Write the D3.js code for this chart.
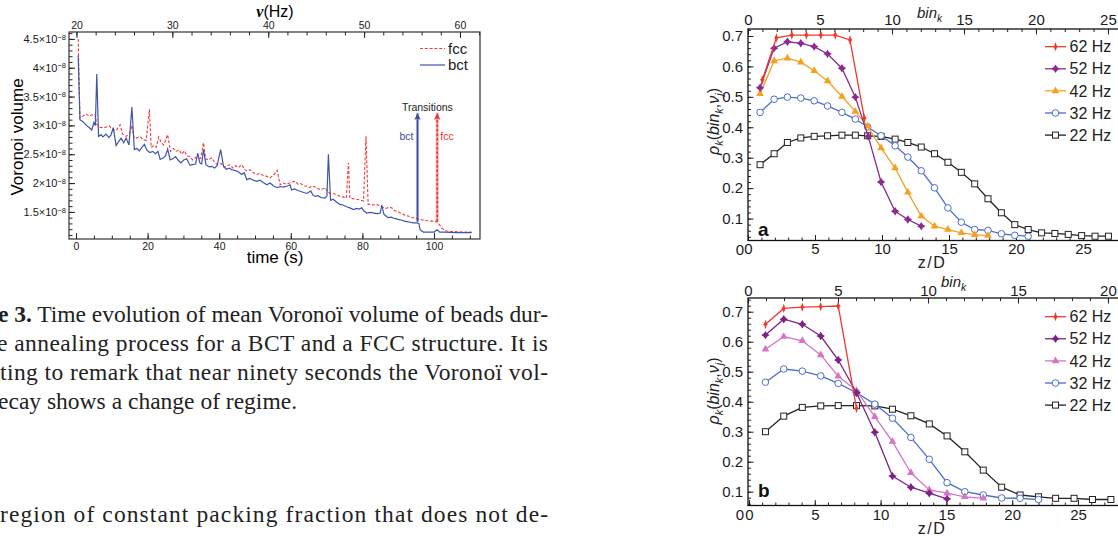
<!DOCTYPE html>
<html>
<head>
<meta charset="utf-8">
<script src="https://cdn.jsdelivr.net/npm/d3@7"></script>
<style>
  body { margin: 0; background: #fff; }
  svg { display: block; }
</style>
</head>
<body>
<svg id="fig" width="1118" height="536"></svg>
<script>
// Mean Voronoi volume (x 1e-8) against time (s)
const fccSeries = [
  [0.6, 4.50], [1.1, 3.13], [1.9, 3.16], [2.8, 3.20], [3.7, 3.16], [4.7, 3.19], [5.3, 3.19], [5.8, 3.02],
  [6.5, 2.97], [7.5, 2.96], [8.4, 2.97], [9.3, 2.99], [10.2, 2.93], [11.2, 2.91], [12.3, 3.01], [13.0, 2.85],
  [14.0, 2.81], [15.0, 2.86], [15.6, 3.00], [16.2, 2.78], [16.8, 2.78], [17.9, 2.81], [18.8, 2.75], [19.6, 2.74],
  [20.5, 3.28], [21.0, 2.62], [21.8, 2.65], [22.4, 2.62], [23.1, 2.80], [23.8, 2.70], [24.5, 2.66], [25.6, 2.84],
  [26.4, 2.55], [27.2, 2.60], [28.0, 2.55], [28.8, 2.58], [29.5, 2.50], [30.3, 2.56], [31.0, 2.47], [31.8, 2.46],
  [32.6, 2.40], [33.3, 2.44], [34.2, 2.42], [34.8, 2.43], [35.6, 2.70], [36.2, 2.42], [37.0, 2.40], [37.9, 2.44],
  [38.8, 2.35], [39.6, 2.32], [40.5, 2.34], [41.3, 2.28], [42.1, 2.29], [43.0, 2.32], [43.8, 2.26], [44.6, 2.30],
  [45.4, 2.27], [46.3, 2.32], [47.0, 2.24], [47.7, 2.21], [48.6, 2.23], [49.5, 2.18], [50.5, 2.15], [51.4, 2.17],
  [52.3, 2.13], [53.2, 2.12], [54.2, 2.09], [55.2, 2.14], [56.2, 2.22], [57.0, 1.97], [57.9, 2.00], [58.8, 1.98],
  [59.6, 2.00], [60.4, 2.02], [61.2, 2.03], [62.0, 1.98], [62.8, 1.99], [63.6, 1.95], [64.4, 1.95], [65.2, 1.92],
  [66.0, 1.95], [66.8, 1.93], [67.5, 1.90], [68.2, 1.89], [69.0, 1.90], [69.6, 1.92], [70.3, 1.85], [71.0, 1.82],
  [71.8, 1.82], [72.8, 1.80], [73.7, 1.77], [74.6, 1.76], [75.5, 1.74], [76.1, 2.35], [76.5, 1.74], [77.3, 1.73],
  [78.2, 1.72], [79.1, 1.71], [80.3, 1.69], [81.0, 2.81], [81.6, 1.63], [82.4, 1.63], [83.2, 1.62], [84.0, 1.63],
  [84.9, 1.60], [85.8, 1.58], [86.6, 1.56], [87.4, 1.58], [88.2, 1.57], [89.0, 1.52], [89.8, 1.51], [90.6, 1.48],
  [91.4, 1.46], [91.9, 1.44], [92.8, 1.43], [93.6, 1.41], [94.2, 1.40], [95.2, 1.38], [96.0, 1.37], [96.9, 1.36],
  [97.8, 1.35], [98.9, 1.34], [99.8, 1.34], [100.8, 1.33], [101.5, 1.28], [102.2, 1.22], [103.0, 1.18], [103.5, 1.17],
  [104.5, 1.16], [106.0, 1.16], [108.0, 1.15], [110.5, 1.15]
];
const bctSeries = [
  [0.6, 4.21], [1.1, 3.10], [2.0, 3.06], [2.9, 3.00], [3.9, 2.95], [4.4, 2.92], [5.0, 3.05], [5.4, 3.00],
  [5.8, 3.89], [6.3, 2.81], [7.0, 2.84], [7.5, 2.80], [8.4, 2.85], [9.2, 2.79], [9.8, 2.84], [10.4, 2.96],
  [11.2, 2.65], [11.9, 2.72], [12.6, 2.78], [13.3, 2.70], [14.0, 2.78], [14.8, 2.66], [15.6, 3.32], [16.3, 2.58],
  [17.0, 2.60], [17.7, 2.56], [18.4, 2.62], [19.1, 2.67], [19.8, 2.57], [20.6, 2.53], [21.4, 2.55], [22.2, 2.51],
  [22.9, 2.55], [23.5, 2.41], [24.2, 2.43], [25.0, 2.47], [25.6, 2.59], [26.3, 2.40], [27.0, 2.42], [27.8, 2.46],
  [28.5, 2.40], [29.3, 2.35], [30.1, 2.40], [30.9, 2.42], [31.8, 2.31], [32.6, 2.32], [33.4, 2.33], [34.0, 2.52],
  [34.6, 2.35], [35.1, 2.33], [35.6, 2.58], [36.3, 2.32], [37.2, 2.28], [37.9, 2.29], [38.7, 2.26], [39.4, 2.30],
  [40.4, 2.58], [41.2, 2.29], [42.0, 2.24], [42.8, 2.26], [43.5, 2.23], [44.3, 2.22], [45.2, 2.20], [46.3, 2.15],
  [47.0, 2.18], [47.7, 2.06], [48.6, 2.08], [49.5, 2.05], [50.5, 2.03], [51.4, 2.05], [52.3, 2.01], [53.3, 1.97],
  [54.2, 2.00], [55.2, 1.95], [56.2, 1.92], [57.1, 1.94], [58.0, 1.93], [59.0, 1.95], [59.8, 1.97], [60.2, 1.88],
  [61.0, 1.90], [62.0, 1.87], [63.0, 1.85], [64.4, 1.82], [65.0, 1.84], [65.6, 1.86], [66.2, 1.79], [66.8, 1.77],
  [67.6, 1.78], [68.4, 1.75], [69.6, 1.74], [70.1, 1.78], [70.5, 2.50], [71.1, 1.70], [71.8, 1.72], [72.6, 1.68],
  [73.7, 1.63], [74.6, 1.62], [75.6, 1.59], [76.5, 1.57], [77.5, 1.54], [78.4, 1.56], [79.1, 1.55], [79.8, 1.57],
  [80.4, 1.52], [81.2, 1.48], [82.2, 1.49], [83.2, 1.48], [84.2, 1.47], [85.0, 1.48], [85.4, 1.62], [86.0, 1.46],
  [86.6, 1.43], [87.2, 1.40], [88.0, 1.41], [88.8, 1.39], [89.5, 1.38], [90.0, 1.37], [90.8, 1.36], [91.7, 1.34],
  [92.5, 1.33], [93.3, 1.32], [94.2, 1.31], [95.2, 1.31], [95.8, 1.30], [96.1, 1.19], [97.0, 1.15], [98.0, 1.15],
  [99.0, 1.15], [100.0, 1.15], [100.9, 1.19], [101.6, 1.15], [103.0, 1.15], [106.0, 1.14], [110.5, 1.14]
];
// transition arrows: time, base and tip in volume units
const transitions = [
  {label: 'bct', t: 95.4, base: 1.33, tip: 3.22},
  {label: 'fcc', t: 100.9, base: 1.33, tip: 3.22}
];
const volTicks = [1.5, 2, 2.5, 3, 3.5, 4, 4.5];
const timeTicks = [0, 20, 40, 60, 80, 100];
const nuTicks = [20, 30, 40, 50, 60];

// Density profiles rho_k against z/D, panel a
const a62 = [[1.07, 0.556], [2.12, 0.694], [3.27, 0.703], [4.36, 0.703], [5.44, 0.703], [6.51, 0.703], [7.61, 0.687], [8.68, 0.430]];
const a52 = [[0.90, 0.530], [1.95, 0.660], [2.94, 0.681], [3.94, 0.676], [4.94, 0.665], [5.94, 0.641], [7.01, 0.594],
  [8.01, 0.499], [8.97, 0.370], [9.93, 0.220], [10.98, 0.124], [11.93, 0.097], [12.93, 0.075]];
const a42 = [[0.90, 0.510], [1.95, 0.618], [2.94, 0.627], [3.94, 0.614], [4.94, 0.586], [5.94, 0.552], [7.01, 0.501],
  [8.01, 0.452], [8.93, 0.403], [9.93, 0.332], [10.98, 0.266], [11.93, 0.186], [12.93, 0.108], [13.92, 0.075],
  [14.92, 0.064], [15.92, 0.053], [16.92, 0.047], [17.91, 0.044]];
const a32 = [[0.90, 0.449], [1.95, 0.492], [2.94, 0.499], [3.94, 0.496], [4.94, 0.487], [5.94, 0.470], [7.01, 0.449],
  [8.01, 0.427], [8.93, 0.401], [9.93, 0.372], [10.98, 0.339], [11.93, 0.302], [12.93, 0.257], [13.92, 0.201],
  [14.92, 0.135], [15.92, 0.088], [16.92, 0.064], [17.91, 0.061], [18.91, 0.050], [19.91, 0.045], [20.91, 0.042]];
const a22 = [[0.90, 0.277], [1.95, 0.313], [2.94, 0.350], [3.94, 0.365], [4.94, 0.370], [5.94, 0.372], [7.01, 0.374],
  [8.01, 0.374], [8.93, 0.372], [9.93, 0.370], [10.98, 0.361], [11.93, 0.350], [12.93, 0.335], [13.92, 0.313],
  [14.92, 0.285], [15.92, 0.252], [16.92, 0.214], [17.91, 0.165], [18.91, 0.119], [19.91, 0.080], [20.91, 0.064],
  [21.91, 0.053], [22.9, 0.051], [23.9, 0.048], [24.9, 0.044], [25.9, 0.042], [26.9, 0.042]];

// panel b
const b62 = [[1.25, 0.658], [2.64, 0.711], [4.05, 0.715], [5.45, 0.717], [6.78, 0.719], [8.17, 0.378]];
const b52 = [[1.25, 0.622], [2.64, 0.675], [4.05, 0.658], [5.45, 0.619], [6.78, 0.539], [8.17, 0.430], [9.56, 0.298],
  [10.9, 0.152], [12.3, 0.115], [13.7, 0.095], [15.05, 0.076]];
const b42 = [[1.25, 0.575], [2.64, 0.617], [4.05, 0.603], [5.45, 0.556], [6.78, 0.485], [8.17, 0.437], [9.56, 0.350],
  [10.9, 0.267], [12.3, 0.163], [13.7, 0.106], [15.05, 0.095], [16.4, 0.083], [17.8, 0.078]];
const b32 = [[1.25, 0.465], [2.64, 0.509], [4.05, 0.502], [5.45, 0.486], [6.78, 0.461], [8.17, 0.430], [9.56, 0.392],
  [10.9, 0.345], [12.3, 0.281], [13.7, 0.208], [15.05, 0.130], [16.4, 0.100], [17.8, 0.089], [19.2, 0.079],
  [20.6, 0.078], [22.0, 0.074]];
const b22 = [[1.25, 0.300], [2.64, 0.352], [4.05, 0.381], [5.45, 0.386], [6.78, 0.387], [8.17, 0.387], [9.56, 0.386],
  [10.9, 0.375], [12.3, 0.353], [13.7, 0.326], [15.05, 0.286], [16.4, 0.233], [17.8, 0.172], [19.2, 0.115],
  [20.6, 0.089], [22.0, 0.083], [23.3, 0.078], [24.7, 0.078], [26.1, 0.074], [27.5, 0.074]];

const freqLabels = ['62 Hz', '52 Hz', '42 Hz', '32 Hz', '22 Hz'];
const rhoTicks = [0.1, 0.2, 0.3, 0.4, 0.5, 0.6, 0.7];
const zTicks = [0, 5, 10, 15, 20, 25];
const binTicksA = [0, 5, 10, 15, 20, 25];
const binTicksB = [0, 5, 10, 15, 20];

const captionLines = [
  ['e 3.', ' Time evolution of mean Voronoï volume of beads dur-'],
  ['', 'e annealing process for a BCT and a FCC structure. It is'],
  ['', 'ting to remark that near ninety seconds the Voronoï vol-'],
  ['', 'ecay shows a change of regime.'],
  ['', 'region of constant packing fraction that does not de-']
];

const SANS = "'Liberation Sans', Arial, sans-serif";
const svg = d3.select('#fig');
svg.append('rect').attr('width', 1118).attr('height', 536).attr('fill', '#fff');

function addAxis(parent, axis, tx, ty, fs) {
  const g = parent.append('g').attr('transform', `translate(${tx},${ty})`).call(axis);
  g.select('.domain').remove();
  g.attr('font-family', null).attr('font-size', null);
  g.selectAll('line').attr('stroke', '#222').attr('stroke-width', 1);
  g.selectAll('text').attr('font-size', fs).attr('fill', '#1a1a1a');
  return g;
}

// ================= left chart =================
const L = {left: 69, right: 480, top: 32, bottom: 239};
const xTime = d3.scaleLinear().domain([-1.96, 112.85]).range([L.left, L.right]);
const xNu = d3.scaleLinear().domain([19.22, 62.09]).range([L.left, L.right]);
const yVol = d3.scaleLinear().domain([1.03, 4.62]).range([L.bottom, L.top]);

const gL = svg.append('g').attr('font-family', SANS);

addAxis(gL, d3.axisLeft(yVol).tickValues(d3.range(1.1, 4.62, 0.1)).tickSize(-3.5).tickFormat(''), L.left, 0, 11);
addAxis(gL, d3.axisLeft(yVol).tickValues(volTicks).tickSize(-6).tickPadding(3), L.left, 0, 11)
  .selectAll('.tick text')
  .each(function (d) {
    const t = d3.select(this).text('');
    t.append('tspan').text(d + '×10');
    t.append('tspan').attr('dy', '-0.45em').attr('font-size', 7.5).text('−8');
  });

addAxis(gL, d3.axisBottom(xTime).tickValues(d3.range(0, 113, 5)).tickSize(-3.5).tickFormat(''), 0, L.bottom, 10.5);
addAxis(gL, d3.axisBottom(xTime).tickValues(timeTicks).tickSize(-6).tickPadding(3.5), 0, L.bottom, 10.5);
addAxis(gL, d3.axisTop(xNu).tickValues(d3.range(20, 62.1, 2)).tickSize(-3.5).tickFormat(''), 0, L.top, 10.5);
addAxis(gL, d3.axisTop(xNu).tickValues(nuTicks).tickSize(-6).tickPadding(3), 0, L.top, 10.5);

gL.append('rect')
  .attr('x', L.left).attr('y', L.top)
  .attr('width', L.right - L.left).attr('height', L.bottom - L.top)
  .attr('fill', 'none').attr('stroke', '#333').attr('stroke-width', 1.2);

const volLine = d3.line().x(d => xTime(d[0])).y(d => yVol(d[1]));
gL.append('path').datum(fccSeries).attr('d', volLine)
  .attr('fill', 'none').attr('stroke', '#f23a3a').attr('stroke-width', 1.1).attr('stroke-dasharray', '3,1.8');
gL.append('path').datum(bctSeries).attr('d', volLine)
  .attr('fill', 'none').attr('stroke', '#3d55ad').attr('stroke-width', 1.2);

// axis titles
gL.append('text').attr('x', 275).attr('y', 17).attr('text-anchor', 'middle').attr('font-size', 16)
  .call(t => {
    t.append('tspan').attr('font-family', "'Liberation Serif', serif").attr('font-weight', 'bold')
      .attr('font-style', 'italic').text('ν');
    t.append('tspan').text('(Hz)');
  });
gL.append('text').attr('x', 275).attr('y', 263).attr('text-anchor', 'middle').attr('font-size', 17).text('time (s)');
gL.append('text').attr('transform', 'translate(23,137) rotate(-90)').attr('text-anchor', 'middle')
  .attr('font-size', 17).text('Voronoi volume');

// legend
const legendL = [{name: 'fcc', color: '#f23a3a', dash: '3,1.8', y: 48.5}, {name: 'bct', color: '#3d55ad', dash: null, y: 65}];
legendL.forEach(e => {
  gL.append('line').attr('x1', 420).attr('x2', 445).attr('y1', e.y).attr('y2', e.y)
    .attr('stroke', e.color).attr('stroke-width', 1.2).attr('stroke-dasharray', e.dash);
  gL.append('text').attr('x', 448).attr('y', e.y + 5.3).attr('font-size', 15).attr('fill', '#222').text(e.name);
});

// transition arrows
const arrowColor = {bct: '#3b4d9c', fcc: '#e8322e'};
const defs = svg.append('defs');
transitions.forEach(tr => {
  defs.append('marker').attr('id', 'arr-' + tr.label)
    .attr('viewBox', '-5 -5 10 10').attr('markerUnits', 'userSpaceOnUse')
    .attr('markerWidth', 9).attr('markerHeight', 9).attr('refX', 2).attr('refY', 0).attr('orient', 'auto')
    .append('path').attr('d', 'M4,0L-4,-3.6L-2,0L-4,3.6Z').attr('fill', arrowColor[tr.label]);
  const x = xTime(tr.t);
  gL.append('line').attr('x1', x).attr('x2', x).attr('y1', yVol(tr.base)).attr('y2', yVol(tr.tip))
    .attr('stroke', arrowColor[tr.label]).attr('stroke-opacity', 0.35).attr('stroke-width', 3.2);
  gL.append('line').attr('x1', x).attr('x2', x).attr('y1', yVol(tr.base)).attr('y2', yVol(tr.tip) + 2)
    .attr('stroke', arrowColor[tr.label]).attr('stroke-width', 1.5)
    .attr('stroke-dasharray', tr.label === 'fcc' ? '3,1.5' : null)
    .attr('marker-end', `url(#arr-${tr.label})`);
  const right = tr.label === 'fcc';
  gL.append('text').attr('x', right ? x + 3 : x - 4).attr('y', 140)
    .attr('text-anchor', right ? 'start' : 'end').attr('font-size', 10.5)
    .attr('fill', arrowColor[tr.label]).text(tr.label);
});
gL.append('text')
  .attr('x', (xTime(transitions[0].t) + xTime(transitions[1].t)) / 2)
  .attr('y', 110.5).attr('text-anchor', 'middle').attr('font-size', 10.5).attr('fill', '#222')
  .text('Transitions');

// ================= caption =================
const captionY = [322, 351, 380, 409, 522];
const captionX = [-2, -3, 0, -2, 0];
const captionW = [550, 551, 548, 299, 548];
const gC = svg.append('g').attr('font-family', "'Liberation Serif', 'Times New Roman', serif")
  .attr('font-size', 23.5).attr('fill', '#222');
captionLines.forEach((parts, i) => {
  const t = gC.append('text').attr('x', captionX[i]).attr('y', captionY[i])
    .attr('textLength', captionW[i]).attr('lengthAdjust', 'spacing');
  if (parts[0]) t.append('tspan').attr('font-weight', 'bold').text(parts[0]);
  t.append('tspan').text(parts[1]);
});

// ================= right panels =================
// frame runs past the right edge of the page, so only three sides show
const R = {left: 748, right: 1113, frameRight: 1130};
const colorsA = ['#ee3a2c', '#8a2c90', '#f5a021', '#4d6fcb', '#222222'];
const colorsB = ['#ee3a2c', '#7e2385', '#d475c6', '#4d6fcb', '#222222'];

function drawMarker(g, i, color) {
  if (i === 0) {
    g.append('path').attr('d', 'M0,-4.6L1.7,0L0,4.6L-1.7,0Z').attr('fill', color);
    g.append('line').attr('x1', -2.2).attr('x2', 2.2).attr('stroke', color).attr('stroke-width', 1);
  } else if (i === 1) {
    g.append('path').attr('d', 'M0,-4.2L1.7,-1.7L4.2,0L1.7,1.7L0,4.2L-1.7,1.7L-4.2,0L-1.7,-1.7Z').attr('fill', color);
  } else if (i === 2) {
    g.append('path').attr('d', d3.symbol(d3.symbolTriangle, 26)()).attr('fill', color);
  } else if (i === 3) {
    g.append('circle').attr('r', 3.3).attr('fill', '#fff').attr('stroke', color).attr('stroke-width', 1);
  } else {
    g.append('rect').attr('x', -3).attr('y', -3).attr('width', 6).attr('height', 6)
      .attr('fill', '#fff').attr('stroke', color).attr('stroke-width', 1);
  }
}

function richText(parent, parts, fs) {
  parts.forEach(p => {
    const s = parent.append('tspan').text(p.t);
    if (p.it) s.attr('font-style', 'italic');
    if (p.sub) s.attr('font-size', fs * 0.68).attr('dy', fs * 0.28);
    if (p.back) s.attr('dy', -fs * 0.28);
  });
}

function drawPanel(cfg) {
  const x = d3.scaleLinear().domain([0, cfg.zMax]).range([cfg.zLeft, R.right]);
  const xb = d3.scaleLinear().domain([0, cfg.binMax]).range([R.left, R.right]);
  const y = d3.scaleLinear().domain([cfg.yLo, cfg.yHi]).range([cfg.bottom, cfg.top]);
  const g = svg.append('g').attr('font-family', SANS);

  addAxis(g, d3.axisLeft(y).tickValues(d3.range(0.04, cfg.yHi, 0.02).filter(v => v > cfg.yLo)).tickSize(-3).tickFormat(''), R.left, 0, 15);
  addAxis(g, d3.axisLeft(y).tickValues(rhoTicks).tickSize(-5.5).tickPadding(5).tickFormat(d3.format('.1f')), R.left, 0, 15);
  addAxis(g, d3.axisBottom(x).tickValues(d3.range(0, cfg.zMax, 1)).tickSize(-3).tickFormat(''), 0, cfg.bottom, 15);
  addAxis(g, d3.axisBottom(x).tickValues(zTicks).tickSize(-5.5).tickPadding(cfg.padB), 0, cfg.bottom, 15);
  addAxis(g, d3.axisTop(xb).tickValues(d3.range(0, cfg.binMax, 1)).tickSize(-3).tickFormat(''), 0, cfg.top, 15);
  addAxis(g, d3.axisTop(xb).tickValues(cfg.binTicks).tickSize(-5.5).tickPadding(cfg.padT), 0, cfg.top, 15);

  g.append('rect').attr('x', R.left).attr('y', cfg.top)
    .attr('width', R.frameRight - R.left).attr('height', cfg.bottom - cfg.top)
    .attr('fill', 'none').attr('stroke', '#111').attr('stroke-width', 1.3);

  // corner zero of the rho axis
  g.append('text').attr('x', R.left - 4).attr('y', cfg.bottom + cfg.padB + 11).attr('text-anchor', 'end')
    .attr('font-size', 15).attr('fill', '#1a1a1a').text('0');

  const line = d3.line().x(d => x(d[0])).y(d => y(d[1]));
  for (let i = cfg.series.length - 1; i >= 0; i--) {
    const c = cfg.colors[i];
    g.append('path').datum(cfg.series[i]).attr('d', line)
      .attr('fill', 'none').attr('stroke', c).attr('stroke-width', 1.3);
    cfg.series[i].forEach(d => {
      drawMarker(g.append('g').attr('transform', `translate(${x(d[0])},${y(d[1])})`), i, c);
    });
  }

  // legend
  freqLabels.forEach((name, i) => {
    const ly = cfg.legendTop + i * 22.1;
    const c = cfg.colors[i];
    g.append('line').attr('x1', 1045).attr('x2', 1066).attr('y1', ly).attr('y2', ly)
      .attr('stroke', c).attr('stroke-width', 1.3);
    drawMarker(g.append('g').attr('transform', `translate(1055.5,${ly})`), i, c);
    g.append('text').attr('x', 1069.5).attr('y', ly + 5.6).attr('font-size', 16).attr('fill', '#222').text(name);
  });

  // axis titles
  g.append('text').attr('x', 932).attr('y', cfg.bottom + cfg.zTitle).attr('text-anchor', 'middle')
    .attr('font-size', 16).attr('letter-spacing', 1.5).attr('fill', '#222').text('z/D');
  const bt = g.append('text').attr('x', cfg.binX).attr('y', cfg.binY).attr('font-size', 15).attr('fill', '#222');
  richText(bt, [{t: 'bin', it: true}, {t: 'k', it: true, sub: true}], 15);
  const yl = g.append('text').attr('transform', `translate(719,${cfg.yLabelY}) rotate(-90)`)
    .attr('text-anchor', 'middle').attr('font-size', 16).attr('fill', '#222');
  richText(yl, [
    {t: 'ρ', it: true}, {t: 'k', it: true, sub: true}, {t: '(', back: true}, {t: 'bin', it: true},
    {t: 'k', it: true, sub: true}, {t: ',', back: true}, {t: 'ν', it: true},
    {t: 'j', it: true, sub: true}, {t: ')', back: true}
  ], 16);
  g.append('text').attr('x', 758).attr('y', cfg.letterY).attr('font-size', 19).attr('font-weight', 'bold')
    .attr('fill', '#111').text(cfg.letter);
}

drawPanel({
  top: 29, bottom: 240.5, zMax: 27.24, zLeft: 748, binMax: 25.35, yLo: 0.0279, yHi: 0.7229,
  series: [a62, a52, a42, a32, a22], colors: colorsA, letter: 'a', binTicks: binTicksA,
  padB: 3, padT: 3.6, legendTop: 46.7, zTitle: 27, binX: 917, binY: 18, yLabelY: 121.5, letterY: 236
});
drawPanel({
  top: 298, bottom: 505.5, zMax: 27.66, zLeft: 749, binMax: 20.28, yLo: 0.054, yHi: 0.7457,
  series: [b62, b52, b42, b32, b22], colors: colorsB, letter: 'b', binTicks: binTicksB,
  padB: 3.5, padT: 2.5, legendTop: 316.7, zTitle: 28.5, binX: 941, binY: 287, yLabelY: 391, letterY: 497
});
</script>
</body>
</html>
